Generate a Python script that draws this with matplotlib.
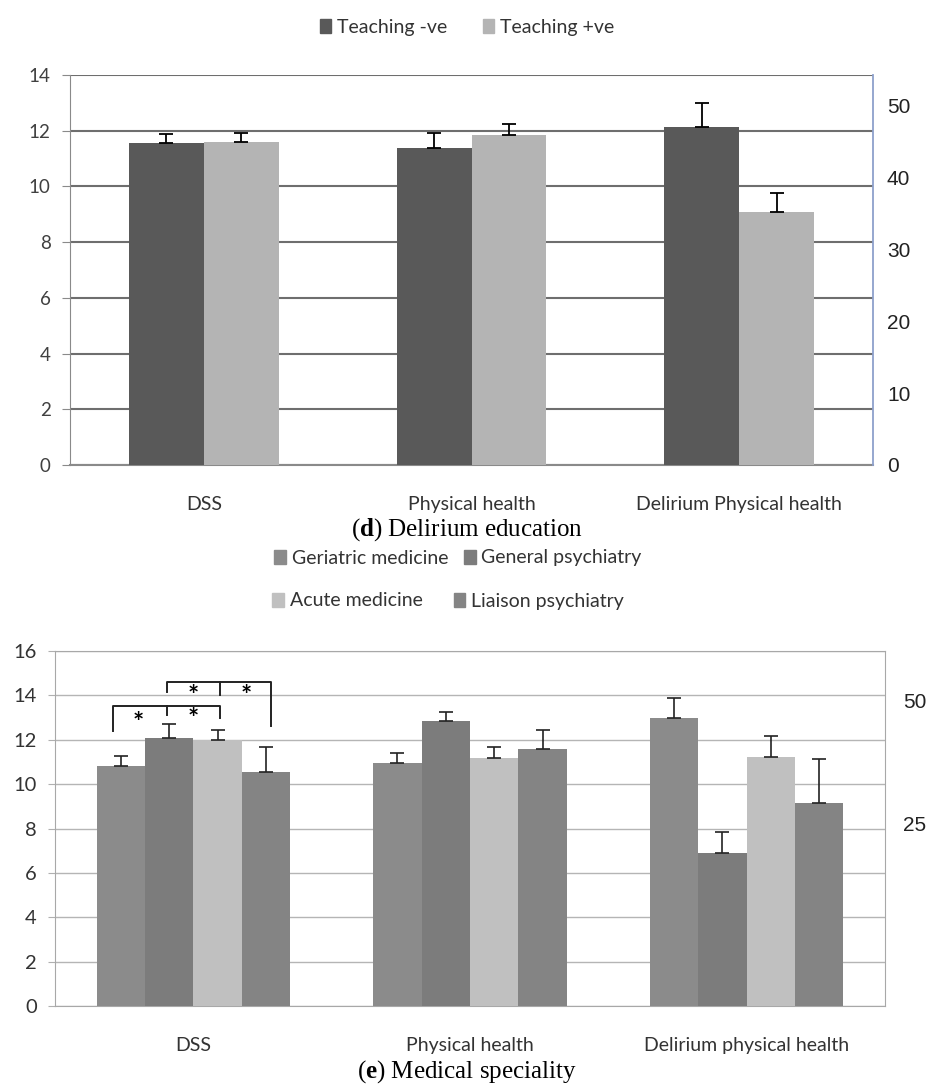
import numpy as np
import matplotlib
matplotlib.use("Agg")
import matplotlib.pyplot as plt
from matplotlib.patches import Patch

# (d) Delirium education
cats_d = ["DSS", "Physical health", "Delirium Physical health"]
teach_neg = [11.55, 11.38, 12.15]
teach_neg_err = [0.35, 0.55, 0.85]
teach_pos = [11.58, 11.85, 9.08]
teach_pos_err = [0.33, 0.40, 0.70]
right_ticks_d = [0, 10, 20, 30, 40, 50]

# (e) Medical speciality
cats_e = ["DSS", "Physical health", "Delirium physical health"]
specialities = ["Geriatric medicine", "General psychiatry", "Acute medicine", "Liaison psychiatry"]
spec_means = [
    [10.8, 10.95, 12.97],   # geriatric
    [12.07, 12.84, 6.9],    # general psych
    [11.98, 11.17, 11.22],  # acute
    [10.55, 11.58, 9.14],   # liaison
]
spec_errs = [
    [0.45, 0.45, 0.9],
    [0.65, 0.4, 0.95],
    [0.45, 0.5, 0.95],
    [1.12, 0.85, 2.0],
]
right_ticks_e = [25, 50]

dark_d, light_d = "#595959", "#b4b4b4"
spec_colors = ["#8b8b8b", "#7c7c7c", "#c0c0c0", "#848484"]

plt.rcParams["font.family"] = ["Lato", "DejaVu Sans"]
plt.rcParams["mathtext.fontset"] = "custom"
plt.rcParams["mathtext.rm"] = "Liberation Serif"
plt.rcParams["mathtext.bf"] = "Liberation Serif:bold"

W, H = 934, 1085
fig = plt.figure(figsize=(W / 100, H / 100), dpi=100)


def box(l, t, r, b):
    return [l / W, 1 - b / H, (r - l) / W, (b - t) / H]


# ---------------- panel d ----------------
ax = fig.add_axes(box(70, 75, 873, 465))
x = np.arange(len(cats_d))
bw = 0.28
ek = dict(ecolor="black", elinewidth=1.3, capsize=5, capthick=1.3)
ax.bar(x - bw / 2, teach_neg, bw, color=dark_d, zorder=3, yerr=[np.zeros(3), teach_neg_err], error_kw=ek)
ax.bar(x + bw / 2, teach_pos, bw, color=light_d, zorder=3, yerr=[np.zeros(3), teach_pos_err], error_kw=ek)
ax.set_xlim(-0.5, 2.5)
ax.set_ylim(0, 14)
ax.set_yticks(range(0, 15, 2))
ax.grid(axis="y", color="#6e6e6e", linewidth=1.5, zorder=0)
ax.set_axisbelow(True)
for s in ["top", "right"]:
    ax.spines[s].set_visible(False)
ax.spines["left"].set_color("#8a8a8a")
ax.spines["bottom"].set_color("#8a8a8a")
ax.spines["bottom"].set_linewidth(1.5)
ax.tick_params(axis="y", length=6, color="#8a8a8a", labelsize=13.5, labelcolor="#404040", pad=8)
ax.tick_params(axis="x", length=0, labelsize=14, labelcolor="#333333", pad=22)
ax.set_xticks(x)
ax.set_xticklabels(cats_d)

ax2 = ax.twinx()
ax2.set_ylim(0, 54.2)
ax2.set_yticks(right_ticks_d)
for s in ["top", "left", "bottom"]:
    ax2.spines[s].set_visible(False)
ax2.spines["right"].set_color("#8da0cc")
ax2.spines["right"].set_linewidth(1.3)
ax2.tick_params(axis="y", length=0, labelsize=15, labelcolor="#222222", pad=10)
for lab in ax2.get_yticklabels():
    lab.set_fontfamily("Liberation Sans")

fig.legend(handles=[Patch(color=dark_d, label="Teaching -ve"), Patch(color=light_d, label="Teaching +ve")],
           loc="center", bbox_to_anchor=(467 / W, 1 - 27 / H), ncol=2, frameon=False,
           fontsize=14, handlelength=0.6, handleheight=0.7, handletextpad=0.3, columnspacing=1.8,
           labelcolor="#333333")

fig.text(467 / W, 1 - 530 / H, r"($\mathbf{d}$) Delirium education", ha="center", va="center",
         fontsize=18, family="Liberation Serif")

# ---------------- panel e ----------------
bx = fig.add_axes(box(55, 651, 885, 1006))
x = np.arange(len(cats_e))
bw = 0.175
ek2 = dict(ecolor="#222222", elinewidth=1.2, capsize=5, capthick=1.2)
for i, (name, vals, errs, col) in enumerate(zip(specialities, spec_means, spec_errs, spec_colors)):
    off = (i - 1.5) * bw
    bx.bar(x + off, vals, bw, color=col, zorder=3, yerr=[np.zeros(3), errs], error_kw=ek2)
bx.set_xlim(-0.5, 2.5)
bx.set_ylim(0, 16)
bx.set_yticks(range(0, 17, 2))
bx.grid(axis="y", color="#b5b5b5", linewidth=1.0, zorder=0)
bx.set_axisbelow(True)
for s in bx.spines.values():
    s.set_color("#a8a8a8")
bx.tick_params(axis="y", length=5, color="#b0b0b0", labelsize=14.5, labelcolor="#333333", pad=8)
bx.tick_params(axis="x", length=0, labelsize=14, labelcolor="#333333", pad=22)
bx.set_xticks(x)
bx.set_xticklabels(cats_e)

# significance brackets on DSS
xg, xgp, xa, xl = -0.29, -0.095, 0.095, 0.28
br = dict(color="#222222", linewidth=1.4, zorder=5)
bx.plot([xg, xg, xa, xa], [12.4, 13.5, 13.5, 13.0], **br)
bx.plot([xgp, xgp], [13.5, 13.1], **br)
bx.plot([xgp, xgp, xl, xl], [14.15, 14.6, 14.6, 12.6], **br)
bx.plot([xa, xa], [14.6, 14.0], **br)
for sx, sy in [(-0.2, 12.75), (0.0, 12.95), (0.0, 13.95), (0.19, 13.95)]:
    bx.text(sx, sy, "*", ha="center", va="center", fontsize=19, fontweight="bold", zorder=6)

bx2 = bx.twinx()
bx2.set_ylim(-12.2, 60)
bx2.set_yticks(right_ticks_e)
for s in bx2.spines.values():
    s.set_visible(False)
bx2.tick_params(axis="y", length=0, labelsize=15, labelcolor="#222222", pad=13)
for lab in bx2.get_yticklabels():
    lab.set_fontfamily("Liberation Sans")

fig.legend(handles=[Patch(color=spec_colors[0], label=specialities[0]),
                    Patch(color=spec_colors[1], label=specialities[1])],
           loc="center", bbox_to_anchor=(458 / W, 1 - 558 / H), ncol=2, frameon=False,
           fontsize=14, handlelength=0.6, handleheight=0.7, handletextpad=0.3, columnspacing=0.8,
           labelcolor="#333333")
fig.legend(handles=[Patch(color=spec_colors[2], label=specialities[2]),
                    Patch(color=spec_colors[3], label=specialities[3])],
           loc="center", bbox_to_anchor=(448 / W, 1 - 601 / H), ncol=2, frameon=False,
           fontsize=14, handlelength=0.6, handleheight=0.7, handletextpad=0.3, columnspacing=1.6,
           labelcolor="#333333")

fig.text(467 / W, 1 - 1072 / H, r"($\mathbf{e}$) Medical speciality", ha="center", va="center",
         fontsize=18, family="Liberation Serif")

fig.savefig("out.png", dpi=100)
